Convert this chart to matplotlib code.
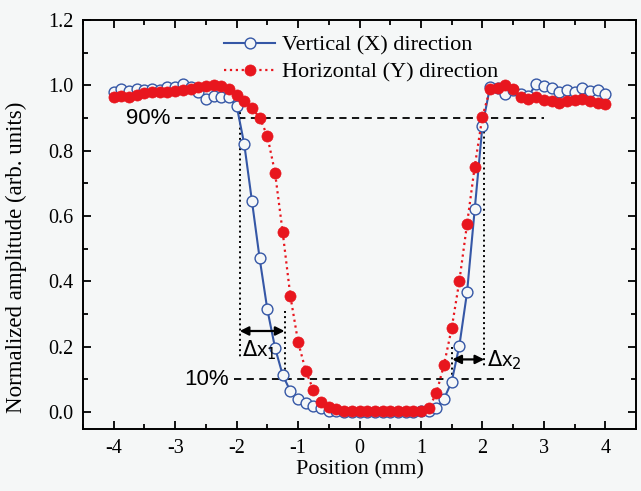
import matplotlib
matplotlib.use("Agg")
import matplotlib.pyplot as plt
from matplotlib.ticker import MultipleLocator

position = [-4.0, -3.875, -3.75, -3.625, -3.5, -3.375, -3.25, -3.125,
            -3.0, -2.875, -2.75, -2.625, -2.5, -2.375, -2.25, -2.125,
            -2.0, -1.875, -1.75, -1.625, -1.5, -1.375, -1.25, -1.125,
            -1.0, -0.875, -0.75, -0.625, -0.5, -0.375, -0.25, -0.125,
            0.0, 0.125, 0.25, 0.375, 0.5, 0.625, 0.75, 0.875,
            1.0, 1.125, 1.25, 1.375, 1.5, 1.625, 1.75, 1.875,
            2.0, 2.125, 2.25, 2.375, 2.5, 2.625, 2.75, 2.875,
            3.0, 3.125, 3.25, 3.375, 3.5, 3.625, 3.75, 3.875, 4.0]

vertical_x = [0.980, 0.988, 0.983, 0.990, 0.985, 0.989, 0.987, 0.996,
              0.994, 1.004, 0.995, 0.980, 0.957, 0.967, 0.965, 0.963,
              0.938, 0.819, 0.645, 0.470, 0.314, 0.197, 0.113, 0.064,
              0.039, 0.029, 0.018, 0.011, 0.004, 0.002, 0.001, 0.000,
              0.000, 0.000, 0.000, 0.000, 0.000, 0.000, 0.001, 0.001,
              0.002, 0.004, 0.011, 0.040, 0.093, 0.203, 0.366, 0.620,
              0.875, 0.996, 0.991, 0.973, 0.985, 0.973, 0.967, 1.004,
              0.998, 0.991, 0.980, 0.985, 0.980, 0.991, 0.983, 0.985, 0.973]

horizontal_y = [0.965, 0.968, 0.963, 0.971, 0.976, 0.979, 0.981, 0.981,
                0.983, 0.985, 0.990, 0.995, 0.997, 1.000, 0.997, 0.990,
                0.970, 0.953, 0.930, 0.901, 0.845, 0.733, 0.550, 0.355,
                0.215, 0.126, 0.067, 0.032, 0.016, 0.008, 0.004, 0.003,
                0.002, 0.002, 0.002, 0.002, 0.002, 0.002, 0.002, 0.003,
                0.004, 0.011, 0.057, 0.144, 0.256, 0.401, 0.575, 0.751,
                0.904, 0.988, 0.991, 1.001, 0.988, 0.963, 0.957, 0.963,
                0.955, 0.951, 0.945, 0.953, 0.955, 0.957, 0.953, 0.947, 0.943]

series_labels = ["Vertical (X) direction", "Horizontal (Y) direction"]
x_ticks = [-4, -3, -2, -1, 0, 1, 2, 3, 4]
y_ticks = [0.0, 0.2, 0.4, 0.6, 0.8, 1.0, 1.2]

plt.rcParams['axes.unicode_minus'] = False
serif = ['Liberation Serif', 'DejaVu Serif']
sans = ['Liberation Sans', 'DejaVu Sans']

bg = '#f5f7f7'
blue = '#3557a6'
red = '#e8161e'

fig = plt.figure(figsize=(6.41, 4.91), dpi=100, facecolor=bg)
ax = fig.add_axes([83/641, 62/491, 553/641, 409/491], facecolor=bg)

ax.plot(position, vertical_x, '-', color=blue, lw=1.5, marker='o', ms=7.8,
        mfc=bg, mec=blue, mew=1.0, label=series_labels[0], zorder=3)
ax.plot(position, horizontal_y, ':', color=red, lw=1.6, marker='o', ms=8,
        mfc=red, mec=red, mew=0.5, label=series_labels[1], zorder=4)

# 90% and 10% levels
ax.plot([-3.0, 3.0], [0.9, 0.9], '--', color='black', lw=1.3, dashes=(4, 3), zorder=2)
ax.plot([-2.05, 2.35], [0.1, 0.1], '--', color='black', lw=1.3, dashes=(4, 3), zorder=2)
ax.text(-3.07, 0.9, "90%", ha='right', va='center', fontsize=16, family=sans)
ax.text(-2.12, 0.1, "10%", ha='right', va='center', fontsize=16, family=sans)

# vertical dotted guides
ax.plot([-1.95, -1.95], [0.935, 0.165], ':', color='black', lw=1.4, zorder=2)
ax.plot([-1.22, -1.22], [0.31, 0.10], ':', color='black', lw=1.4, zorder=2)
ax.plot([1.51, 1.51], [0.20, 0.09], ':', color='black', lw=1.4, zorder=2)
ax.plot([2.03, 2.03], [0.905, 0.14], ':', color='black', lw=1.4, zorder=2)

ax.annotate('', xy=(-1.95, 0.248), xytext=(-1.22, 0.248),
            arrowprops=dict(arrowstyle='<|-|>', color='black', lw=1.6,
                            mutation_scale=13, shrinkA=0, shrinkB=0))
ax.annotate('', xy=(1.51, 0.161), xytext=(2.03, 0.161),
            arrowprops=dict(arrowstyle='<|-|>', color='black', lw=1.6,
                            mutation_scale=13, shrinkA=0, shrinkB=0))
ax.text(-1.92, 0.19, r"$\Delta$x$_1$", ha='left', va='center', fontsize=15, family=sans)
ax.text(2.07, 0.16, r"$\Delta$x$_2$", ha='left', va='center', fontsize=15, family=sans)

ax.set_xlim(-4.5, 4.5)
ax.set_ylim(-0.052, 1.2)
ax.set_xticks(x_ticks)
ax.set_xticklabels([str(v) for v in x_ticks])
ax.set_yticks(y_ticks)
ax.set_yticklabels([f"{v:.1f}" for v in y_ticks])
ax.xaxis.set_minor_locator(MultipleLocator(0.5))
ax.yaxis.set_minor_locator(MultipleLocator(0.1))
ax.tick_params(which='both', direction='in', top=True, right=True, width=1.3)
ax.tick_params(which='major', length=6, labelsize=14.5, pad=7)
ax.tick_params(which='minor', length=3.5)
for lbl in ax.get_xticklabels() + ax.get_yticklabels():
    lbl.set_family(serif)
for s in ax.spines.values():
    s.set_linewidth(1.4)

ax.set_xlabel("Position (mm)", fontsize=16, family=serif, labelpad=2)
ax.set_ylabel("Normalized amplitude (arb. units)", fontsize=16.5, family=serif)
ax.yaxis.set_label_coords(-0.101, 0.42)

leg = ax.legend(loc='upper left', bbox_to_anchor=(0.255, 0.963), frameon=False,
                prop={'family': serif, 'size': 16}, handlelength=2.3,
                handletextpad=0.3, borderpad=0, borderaxespad=0,
                labelspacing=0.3)

fig.savefig("out.png", dpi=100, facecolor=bg)
